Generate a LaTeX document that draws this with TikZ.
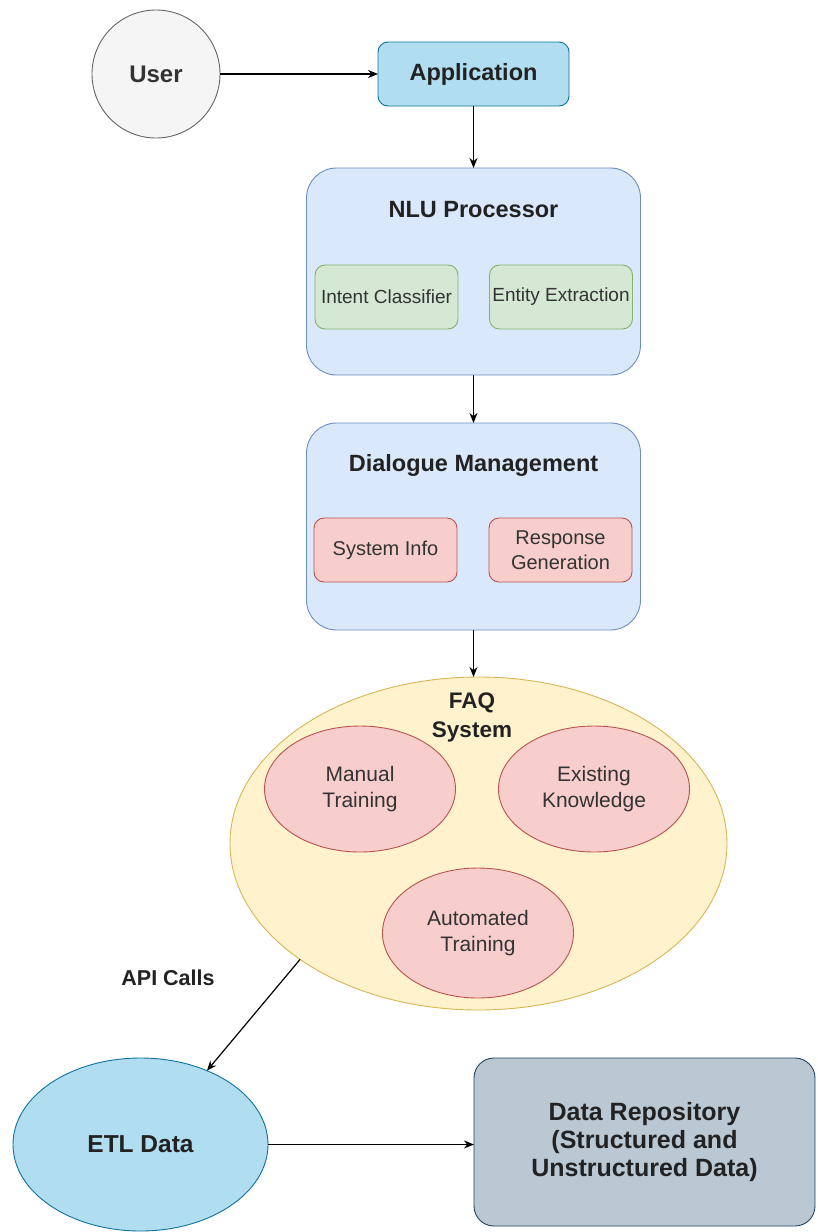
\documentclass[tikz,border=0pt]{standalone}
\usepackage{fontspec}
\setmainfont{Liberation Sans}
\usetikzlibrary{arrows.meta,shapes.geometric}
\definecolor{usrfill}{HTML}{F5F5F5}
\definecolor{usrdraw}{HTML}{666666}
\definecolor{bluefill}{HTML}{B1DDF0}
\definecolor{bluedraw}{HTML}{10739E}
\definecolor{lbfill}{HTML}{DAE8FC}
\definecolor{lbdraw}{HTML}{6C8EBF}
\definecolor{grfill}{HTML}{D5E8D4}
\definecolor{grdraw}{HTML}{82B366}
\definecolor{rdfill}{HTML}{F8CECC}
\definecolor{rddraw}{HTML}{B85450}
\definecolor{ylfill}{HTML}{FFF2CC}
\definecolor{yldraw}{HTML}{D6B656}
\definecolor{gyfill}{HTML}{BAC8D3}
\definecolor{gydraw}{HTML}{23445D}
\definecolor{txt}{HTML}{222222}
\definecolor{txtl}{HTML}{333333}
\begin{document}
\begin{tikzpicture}[x=1pt,y=-1pt,
  base/.style={inner sep=0pt, outer sep=0pt, line width=0.9pt, align=center},
  ttl/.style={font=\fontsize{23.5}{28}\selectfont\bfseries, text=txt},
  small/.style={font=\fontsize{19}{23}\selectfont, text=txtl},
  mid/.style={font=\fontsize{20}{25}\selectfont, text=txtl},
  ell/.style={font=\fontsize{21}{26}\selectfont, text=txtl},
  container/.style={base, draw=lbdraw, fill=lbfill, rounded corners=30pt, minimum width=334pt, minimum height=207pt},
  greenbox/.style={base, small, draw=grdraw, fill=grfill, rounded corners=10pt, minimum width=143pt, minimum height=64pt},
  redbox/.style={base, mid, draw=rddraw, fill=rdfill, rounded corners=10pt, minimum width=143pt, minimum height=64pt},
  redell/.style={base, ell, ellipse, draw=rddraw, fill=rdfill, minimum width=191pt, minimum height=126pt},
  arr/.style={line width=1.2pt, -{Stealth[length=10pt,width=8pt]}}
]
\useasboundingbox (0,0) rectangle (817,1232);
\fill[white] (0,0) rectangle (817,1232);

% top row
\node[base, ttl, circle, draw=usrdraw, fill=usrfill, minimum size=128pt, font=\fontsize{24}{28}\selectfont\bfseries, text=txtl] (user) at (156,74) {User};
\node[base, ttl, draw=bluedraw, fill=bluefill, rounded corners=10pt, minimum width=191pt, minimum height=64pt] (app) at (473.5,74) {Application};

% NLU
\node[container] (nlu) at (473.5,271.5) {};
\node[base, ttl] (nlut) at (473.5,210) {NLU Processor};
\node[greenbox] (intent) at (386.5,297) {Intent Classifier};
\node[greenbox] (entity) at (561,297) {Entity Extraction};

% Dialogue
\node[container] (dlg) at (473.5,526.5) {};
\node[base, ttl] (dlgt) at (473.5,465) {Dialogue Management};
\node[redbox] (sys) at (385.5,550) {System Info};
\node[redbox] (resp) at (560.5,550) {Response\\Generation};

% FAQ
\node[base, ellipse, draw=yldraw, fill=ylfill, minimum width=497pt, minimum height=333pt] (faq) at (478.5,843.5) {};
\node[base, font=\fontsize{22.5}{29}\selectfont\bfseries, text=txt] (faqt) at (472,717) {FAQ\\System};
\node[redell] (manual) at (360,789) {Manual\\Training};
\node[redell] (exist) at (594,789) {Existing\\Knowledge};
\node[redell, minimum height=130pt] (auto) at (478,933) {Automated\\Training};

% bottom
\node[base, font=\fontsize{21.5}{26}\selectfont\bfseries, text=txt] (api) at (168,978) {API Calls};
\node[base, ellipse, draw=bluedraw, fill=bluefill, minimum width=255pt, minimum height=173pt, font=\fontsize{24.5}{29}\selectfont\bfseries, text=txt] (etl) at (140.5,1144.5) {ETL Data};
\node[base, draw=gydraw, fill=gyfill, rounded corners=20pt, minimum width=341pt, minimum height=168pt, font=\fontsize{25}{28}\selectfont\bfseries, text=txt] (repo) at (644.5,1142) {Data Repository\\(Structured and\\Unstructured Data)};

% connectors
\draw[arr] (user.east) -- (app.west);
\draw[arr] (app.south) -- (nlu.north);
\draw[arr] (nlu.south) -- (dlg.north);
\draw[arr] (dlg.south) -- (dlg.south |- faq.north);
\draw[arr] (faq.213.9) -- (etl.48.6);
\draw[arr] (etl.east) -- (etl.east -| repo.west);
\end{tikzpicture}
\end{document}
